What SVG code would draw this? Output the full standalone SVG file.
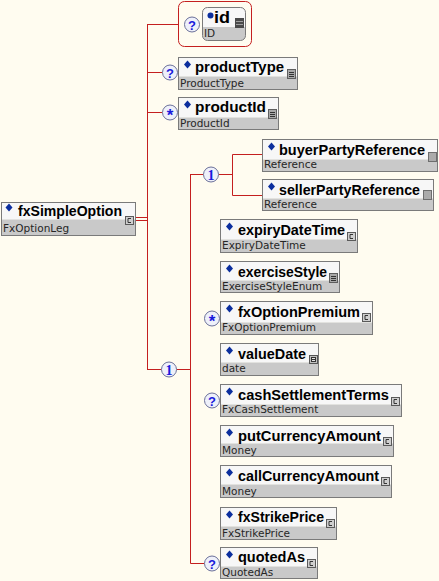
<svg xmlns="http://www.w3.org/2000/svg" xmlns:xlink="http://www.w3.org/1999/xlink" width="439" height="581" viewBox="0 0 439 581">
<style>
.nm{font-family:"Liberation Sans",Arial,sans-serif;font-weight:bold;font-size:15px;fill:#000}
.ty{font-family:"DejaVu Sans",Verdana,sans-serif;font-size:10.5px;fill:#262626}
.tp{fill:#F7F7F7}
.bt{fill:#C9C9C9}
.fr{fill:none;stroke:#7A7A7A;stroke-width:1}
.w{stroke:#C41F1F;stroke-width:1;fill:none}
.oc{fill:#EEF0FA;stroke:#6B7099;stroke-width:1}
.sy{font-family:"Liberation Sans",Arial,sans-serif;font-weight:bold;font-size:13px;fill:#1A1ADC;text-anchor:middle}
.st{font-family:"Liberation Sans",Arial,sans-serif;font-weight:bold;font-size:17px;fill:#1A1ADC;text-anchor:middle}
.sy1{font-family:"Liberation Serif","Times New Roman",serif;font-weight:bold;font-size:14px;fill:#1A1ADC;text-anchor:middle}
.dia{fill:#0B2E9E}
</style>
<defs>
<g id="ic-c"><rect x="0.5" y="0.5" width="8" height="8" fill="#CFCFCF" stroke="#5A5A5A"/><path d="M6,2.5H3V6.5H6" stroke="#333" fill="none"/></g>
<g id="ic-enum"><rect x="0.5" y="0.5" width="8" height="9" fill="#A9A9A9" stroke="#5E5E5E"/><path d="M2,3.5H7M2,5.5H7M2,7.5H7" stroke="#333"/></g>
<g id="ic-sq"><rect x="0.5" y="0.5" width="8" height="9" fill="#ABABAB" stroke="#6E6E6E"/></g>
<g id="ic-date"><rect x="0.5" y="0.5" width="8" height="8" fill="#C0C0C0" stroke="#555"/><rect x="2.5" y="2.5" width="4" height="4" fill="#E4E4E4" stroke="#333"/><path d="M2.5,4.5H6.5" stroke="#333"/></g>
</defs>
<rect x="0" y="0" width="439" height="581" fill="#FFFCF0"/>

<g id="connectors">
<path class="w" d="M135,217.5H147.5M135,220.5H147.5"/>
<path class="w" d="M147.5,24V369"/>
<path class="w" d="M147,24.5H178.5"/>
<path class="w" d="M147,72.5H162.5"/>
<path class="w" d="M147,112.5H162.5"/>
<path class="w" d="M147,369.5H161.5"/>
<path class="w" d="M176.5,369.5H190.5"/>
<path class="w" d="M190.5,174V563.5H204.5"/>
<path class="w" d="M190.5,174.5H203.5"/>
<path class="w" d="M218.5,174.5H232.5"/>
<path class="w" d="M262,154.5H232.5V195.5H262"/>
<rect class="w" x="178.5" y="1.5" width="73" height="45" rx="6"/>
</g>

<g id="occurrences">
<circle class="oc" cx="192" cy="24.5" r="7.5"/><text class="sy" x="192" y="29.5">?</text>
<circle class="oc" cx="170" cy="72.5" r="7.5"/><text class="sy" x="170" y="77.5">?</text>
<circle class="oc" cx="170" cy="112.5" r="7.5"/><text class="st" x="170" y="121">*</text>
<circle class="oc" cx="211" cy="174.5" r="7.5"/><text class="sy1" x="211" y="179.5">1</text>
<circle class="oc" cx="169" cy="369.5" r="7.5"/><text class="sy1" x="169" y="374.5">1</text>
<circle class="oc" cx="212" cy="318.5" r="7.5"/><text class="st" x="212" y="327">*</text>
<circle class="oc" cx="212" cy="400.5" r="7.5"/><text class="sy" x="212" y="405.5">?</text>
<circle class="oc" cx="212" cy="563.5" r="7.5"/><text class="sy" x="212" y="568.5">?</text>
</g>

<g id="n-id">
<rect x="202.5" y="7.5" width="43" height="33" rx="5" fill="#C9C9C9"/>
<path class="tp" d="M202.5,27V12.5a5,5 0 0 1 5,-5H240.5a5,5 0 0 1 5,5V27Z"/>
<rect class="fr" x="202.5" y="7.5" width="43" height="33" rx="5"/>
<circle cx="210.5" cy="15.5" r="3" class="dia"/>
<text class="nm" x="214" y="23" textLength="16" lengthAdjust="spacingAndGlyphs" style="font-size:17px">id</text>
<text class="ty" x="204" y="37">ID</text>
<rect x="235" y="18" width="9" height="10" fill="#4A4A4A"/>
<path d="M236,21.5H243M236,24.5H243" stroke="#A0A0A0"/>
</g>

<g id="n-productType">
<rect class="tp" x="178.5" y="57.5" width="119" height="19"/><rect class="bt" x="178.5" y="76.5" width="119" height="13"/><rect class="fr" x="178.5" y="57.5" width="119" height="32"/>
<polygon class="dia" points="187.5,60.5 191,64.5 187.5,68.5 184,64.5"/>
<text class="nm" x="195" y="72" textLength="89" lengthAdjust="spacingAndGlyphs">productType</text>
<text class="ty" x="180" y="87">ProductType</text>
<use xlink:href="#ic-enum" x="287" y="69"/>
</g>

<g id="n-productId">
<rect class="tp" x="178.5" y="97.5" width="100" height="20"/><rect class="bt" x="178.5" y="117.5" width="100" height="12"/><rect class="fr" x="178.5" y="97.5" width="100" height="32"/>
<polygon class="dia" points="187.5,100.5 191,104.5 187.5,108.5 184,104.5"/>
<text class="nm" x="195" y="112" textLength="71" lengthAdjust="spacingAndGlyphs">productId</text>
<text class="ty" x="180" y="127">ProductId</text>
<use xlink:href="#ic-enum" x="268" y="109"/>
</g>

<g id="n-fxSimpleOption">
<rect class="tp" x="1.5" y="202.5" width="134" height="17"/><rect class="bt" x="1.5" y="219.5" width="134" height="16"/><rect class="fr" x="1.5" y="202.5" width="134" height="33"/>
<polygon class="dia" points="9,203.5 12.5,207.5 9,211.5 5.5,207.5"/>
<text class="nm" x="18" y="216" textLength="104" lengthAdjust="spacingAndGlyphs">fxSimpleOption</text>
<text class="ty" x="3" y="232">FxOptionLeg</text>
<use xlink:href="#ic-c" x="125" y="216"/>
</g>

<g id="n-buyerPartyReference">
<rect class="tp" x="262.5" y="139.5" width="175" height="20"/><rect class="bt" x="262.5" y="159.5" width="175" height="12"/><rect class="fr" x="262.5" y="139.5" width="175" height="32"/>
<polygon class="dia" points="271.5,142.5 275,146.5 271.5,150.5 268,146.5"/>
<text class="nm" x="279" y="155" textLength="146" lengthAdjust="spacingAndGlyphs">buyerPartyReference</text>
<text class="ty" x="264" y="168">Reference</text>
<use xlink:href="#ic-sq" x="428" y="152"/>
</g>

<g id="n-sellerPartyReference">
<rect class="tp" x="262.5" y="179.5" width="171" height="19"/><rect class="bt" x="262.5" y="198.5" width="171" height="12"/><rect class="fr" x="262.5" y="179.5" width="171" height="31"/>
<polygon class="dia" points="271.5,182.5 275,186.5 271.5,190.5 268,186.5"/>
<text class="nm" x="279" y="195" textLength="141" lengthAdjust="spacingAndGlyphs">sellerPartyReference</text>
<text class="ty" x="264" y="208">Reference</text>
<use xlink:href="#ic-sq" x="423" y="190"/>
</g>

<g id="n-expiryDateTime">
<rect class="tp" x="220.5" y="219.5" width="137" height="20"/><rect class="bt" x="220.5" y="239.5" width="137" height="13"/><rect class="fr" x="220.5" y="219.5" width="137" height="33"/>
<polygon class="dia" points="229.5,222.5 233,226.5 229.5,230.5 226,226.5"/>
<text class="nm" x="238" y="235" textLength="107" lengthAdjust="spacingAndGlyphs">expiryDateTime</text>
<text class="ty" x="222" y="249">ExpiryDateTime</text>
<use xlink:href="#ic-c" x="347" y="232"/>
</g>

<g id="n-exerciseStyle">
<rect class="tp" x="220.5" y="261.5" width="119" height="19"/><rect class="bt" x="220.5" y="280.5" width="119" height="12"/><rect class="fr" x="220.5" y="261.5" width="119" height="31"/>
<polygon class="dia" points="229.5,264.5 233,268.5 229.5,272.5 226,268.5"/>
<text class="nm" x="238" y="277" textLength="89" lengthAdjust="spacingAndGlyphs">exerciseStyle</text>
<text class="ty" x="222" y="290">ExerciseStyleEnum</text>
<use xlink:href="#ic-enum" x="329" y="273"/>
</g>

<g id="n-fxOptionPremium">
<rect class="tp" x="220.5" y="301.5" width="152" height="21"/><rect class="bt" x="220.5" y="322.5" width="152" height="12"/><rect class="fr" x="220.5" y="301.5" width="152" height="33"/>
<polygon class="dia" points="229.5,304.5 233,308.5 229.5,312.5 226,308.5"/>
<text class="nm" x="238" y="317" textLength="122" lengthAdjust="spacingAndGlyphs">fxOptionPremium</text>
<text class="ty" x="222" y="331">FxOptionPremium</text>
<use xlink:href="#ic-c" x="362" y="313"/>
</g>

<g id="n-valueDate">
<rect class="tp" x="220.5" y="343.5" width="98" height="19"/><rect class="bt" x="220.5" y="362.5" width="98" height="13"/><rect class="fr" x="220.5" y="343.5" width="98" height="32"/>
<polygon class="dia" points="229.5,346.5 233,350.5 229.5,354.5 226,350.5"/>
<text class="nm" x="238" y="359" textLength="68" lengthAdjust="spacingAndGlyphs">valueDate</text>
<text class="ty" x="222" y="372">date</text>
<use xlink:href="#ic-date" x="309" y="355"/>
</g>

<g id="n-cashSettlementTerms">
<rect class="tp" x="220.5" y="384.5" width="181" height="20"/><rect class="bt" x="220.5" y="404.5" width="181" height="12"/><rect class="fr" x="220.5" y="384.5" width="181" height="32"/>
<polygon class="dia" points="229.5,387.5 233,391.5 229.5,395.5 226,391.5"/>
<text class="nm" x="238" y="400" textLength="151" lengthAdjust="spacingAndGlyphs">cashSettlementTerms</text>
<text class="ty" x="222" y="413">FxCashSettlement</text>
<use xlink:href="#ic-c" x="391" y="397"/>
</g>

<g id="n-putCurrencyAmount">
<rect class="tp" x="220.5" y="425.5" width="173" height="18"/><rect class="bt" x="220.5" y="443.5" width="173" height="13"/><rect class="fr" x="220.5" y="425.5" width="173" height="31"/>
<polygon class="dia" points="229.5,428.5 233,432.5 229.5,436.5 226,432.5"/>
<text class="nm" x="238" y="441" textLength="143" lengthAdjust="spacingAndGlyphs">putCurrencyAmount</text>
<text class="ty" x="222" y="454">Money</text>
<use xlink:href="#ic-c" x="383" y="437"/>
</g>

<g id="n-callCurrencyAmount">
<rect class="tp" x="220.5" y="465.5" width="171" height="19"/><rect class="bt" x="220.5" y="484.5" width="171" height="13"/><rect class="fr" x="220.5" y="465.5" width="171" height="32"/>
<polygon class="dia" points="229.5,468.5 233,472.5 229.5,476.5 226,472.5"/>
<text class="nm" x="238" y="481" textLength="141" lengthAdjust="spacingAndGlyphs">callCurrencyAmount</text>
<text class="ty" x="222" y="495">Money</text>
<use xlink:href="#ic-c" x="381" y="477"/>
</g>

<g id="n-fxStrikePrice">
<rect class="tp" x="220.5" y="507.5" width="116" height="19"/><rect class="bt" x="220.5" y="526.5" width="116" height="13"/><rect class="fr" x="220.5" y="507.5" width="116" height="32"/>
<polygon class="dia" points="229.5,510.5 233,514.5 229.5,518.5 226,514.5"/>
<text class="nm" x="238" y="522" textLength="86" lengthAdjust="spacingAndGlyphs">fxStrikePrice</text>
<text class="ty" x="222" y="537">FxStrikePrice</text>
<use xlink:href="#ic-c" x="326" y="519"/>
</g>

<g id="n-quotedAs">
<rect class="tp" x="220.5" y="547.5" width="97" height="19"/><rect class="bt" x="220.5" y="566.5" width="97" height="12"/><rect class="fr" x="220.5" y="547.5" width="97" height="31"/>
<polygon class="dia" points="229.5,550.5 233,554.5 229.5,558.5 226,554.5"/>
<text class="nm" x="238" y="562" textLength="67" lengthAdjust="spacingAndGlyphs">quotedAs</text>
<text class="ty" x="222" y="576">QuotedAs</text>
<use xlink:href="#ic-c" x="307" y="559"/>
</g>
</svg>
